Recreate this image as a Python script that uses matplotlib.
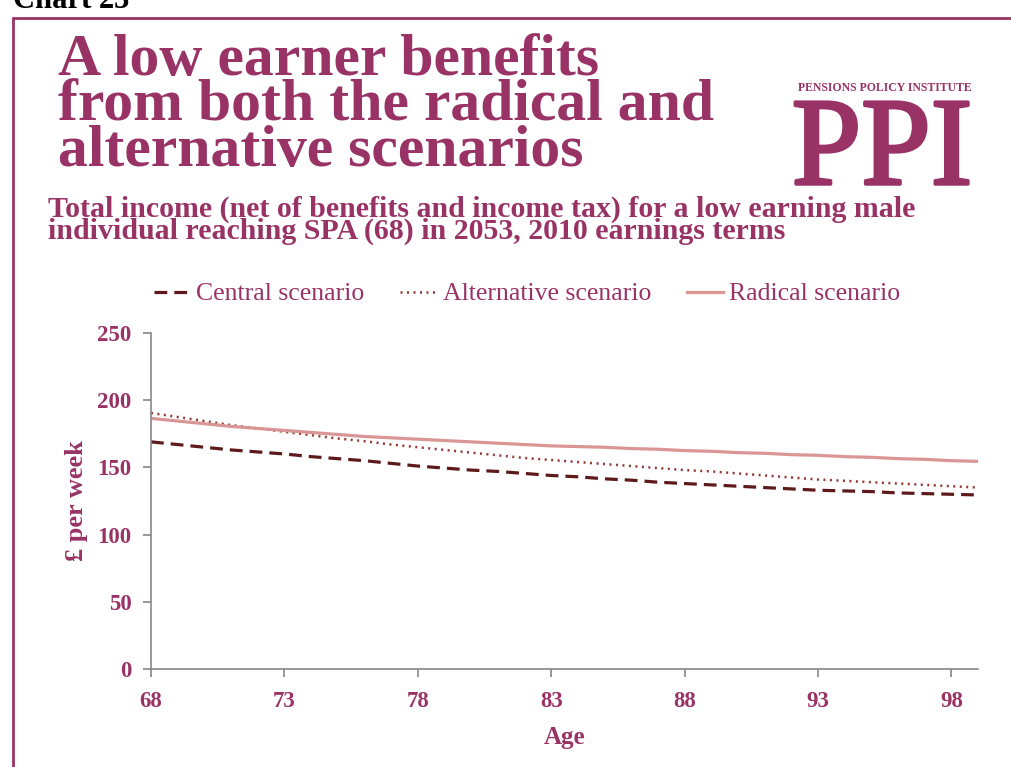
import matplotlib
matplotlib.use("Agg")
import matplotlib.pyplot as plt
import matplotlib.patheffects as pe
from matplotlib.patches import Rectangle

PURPLE = "#993366"
SERIF = ["Liberation Serif", "DejaVu Serif"]

ages = list(range(68, 100))
central = [169, 167, 165, 163, 161.5, 160, 158, 156.5, 155, 153, 151, 149.5,
           148, 147, 145.5, 144, 143, 141.5, 140.5, 139, 138, 137, 136, 135,
           134, 133, 132.5, 132, 131, 130.5, 130, 129.5]
alternative = [190.5, 187.5, 184.5, 181.5, 179, 176.5, 174, 171.5, 169.5, 167,
               165, 163, 161, 159, 157, 155.5, 154, 152.5, 151, 149.5, 148,
               147, 145.5, 144, 142.5, 141, 140, 139, 138, 137, 136, 135]
radical = [186.5, 184.5, 182.5, 180.5, 179, 177.5, 176, 174.5, 173, 172, 171,
           170, 169, 168, 167, 166, 165.5, 165, 164, 163.5, 162.5, 162, 161,
           160.5, 159.5, 159, 158, 157.5, 156.5, 156, 155, 154.5]
x_ticks = [68, 73, 78, 83, 88, 93, 98]
y_ticks = [0, 50, 100, 150, 200, 250]

plt.rcParams["font.family"] = SERIF

fig = plt.figure(figsize=(10.12, 7.67), dpi=100)

# page frame
fig.patches.append(Rectangle((13 / 1012, -0.1), 1.2, 1.1 - 18 / 767,
                             transform=fig.transFigure, fill=False,
                             edgecolor=PURPLE, lw=2.0))
fig.text(13 / 1012, 1 - 8 / 767, "Chart 23", fontsize=22, fontweight="bold",
         color="black", va="baseline", ha="left")

fig.text(58 / 1012, 1 - 34 / 767,
         "A low earner benefits\nfrom both the radical and\nalternative scenarios",
         fontsize=43, fontweight="bold", color=PURPLE, va="top", ha="left",
         linespacing=0.79)
fig.text(48 / 1012, 1 - 196 / 767,
         "Total income (net of benefits and income tax) for a low earning male\n"
         "individual reaching SPA (68) in 2053, 2010 earnings terms",
         fontsize=21.5, fontweight="bold", color=PURPLE, va="top", ha="left",
         linespacing=0.74)

# PPI logo
fig.text(885 / 1012, 1 - 91 / 767, "PENSIONS POLICY INSTITUTE", fontsize=8.5,
         fontweight="bold", color=PURPLE, ha="center", va="baseline")
fig.text(882 / 1012, 1 - 184 / 767, "PPI", fontsize=90, color=PURPLE,
         ha="center", va="baseline",
         path_effects=[pe.withStroke(linewidth=2.5, foreground=PURPLE)])

ax = fig.add_axes([151 / 1012, 1 - 669 / 767, 827 / 1012, 336 / 767])
ax.plot(ages, central, color="#5E1A1A", lw=2.3, ls=(0, (4, 2.2)),
        label="Central scenario")
ax.plot(ages, alternative, color="#943634", lw=1.8, ls=(0, (0.8, 1.8)),
        label="Alternative scenario")
ax.plot(ages, radical, color="#D99694", lw=2.3, label="Radical scenario")

ax.set_xlim(68, 99)
ax.set_ylim(0, 250)
ax.set_xticks(x_ticks)
ax.set_yticks(y_ticks)
for s in ("top", "right"):
    ax.spines[s].set_visible(False)
for s in ("left", "bottom"):
    ax.spines[s].set_color("#888888")
    ax.spines[s].set_linewidth(1.2)
ax.tick_params(colors="#888888", length=6, width=1.2, labelcolor=PURPLE,
               labelsize=16.5)
ax.tick_params(axis="x", pad=10)
ax.tick_params(axis="y", pad=8)
for lab in ax.get_xticklabels() + ax.get_yticklabels():
    lab.set_fontweight("bold")

ax.set_xlabel("Age", fontsize=18, fontweight="bold", color=PURPLE, labelpad=10)
ax.set_ylabel("£ per week", fontsize=19, fontweight="bold", color=PURPLE,
              labelpad=7)

fig.legend(loc="center", bbox_to_anchor=(527 / 1012, 1 - 294 / 767), ncol=3,
           frameon=False, fontsize=18.5, labelcolor=PURPLE, handlelength=1.4,
           handletextpad=0.25, columnspacing=1.4)

fig.savefig("out.png", dpi=100)
